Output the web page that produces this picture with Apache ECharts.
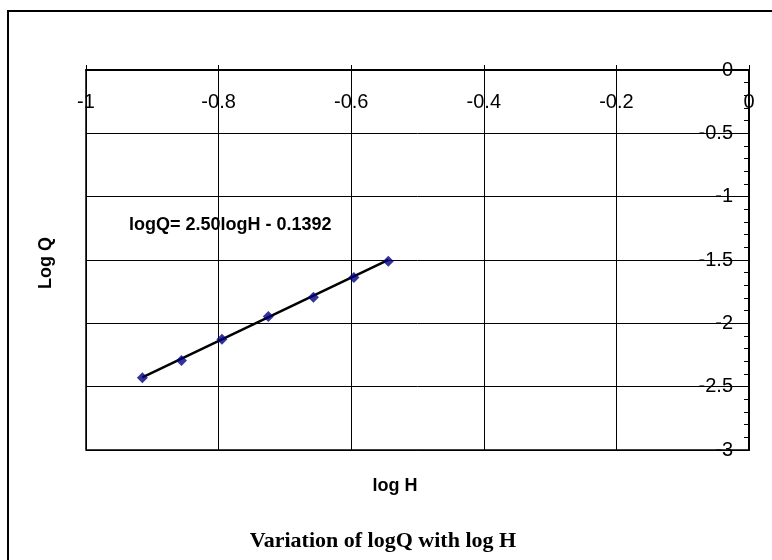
<!DOCTYPE html>
<html>
<head>
<meta charset="utf-8">
<script src="https://cdn.jsdelivr.net/npm/echarts@6/dist/echarts.min.js"></script>
<style>
  html, body { margin: 0; padding: 0; background: #fff; }
  #chart { width: 772px; height: 560px; }
</style>
</head>
<body>
<div id="chart"></div>
<script>
// measured points (log H, log Q)
var logH = [-0.915, -0.856, -0.795, -0.725, -0.657, -0.596, -0.544];
var logQ = [-2.429, -2.294, -2.126, -1.947, -1.794, -1.639, -1.510];
// trendline from the shown equation
var slope = 2.50;
var intercept = -0.1392;
var eqText = 'logQ= 2.50logH - 0.1392';
var titleText = 'Variation of logQ with log H';

var pts = logH.map(function (x, i) { return [x, logQ[i]]; });
var x0 = logH[0], x1 = logH[logH.length - 1];
var trend = [[x0, slope * x0 + intercept], [x1, slope * x1 + intercept]];

var sans = '"Liberation Sans", Arial, sans-serif';

var chart = echarts.init(document.getElementById('chart'));
chart.setOption({
    animation: false,
    backgroundColor: '#fff',
    grid: {
        left: 86, top: 70, right: 23, bottom: 110,
        show: true, borderColor: '#000', borderWidth: 1.5, backgroundColor: 'transparent'
    },
    xAxis: {
        type: 'value', position: 'top', min: -1, max: 0, interval: 0.2,
        axisLine: { onZero: false, lineStyle: { color: '#000', width: 2 } },
        axisTick: { show: true, length: 5, lineStyle: { color: '#000', width: 1 } },
        axisLabel: {
            inside: true, margin: 22, color: '#000', fontSize: 20, fontFamily: sans,
            showMinLabel: true, showMaxLabel: true
        },
        splitLine: { show: true, lineStyle: { color: '#000', width: 1 } }
    },
    yAxis: {
        type: 'value', position: 'right', min: -3, max: 0, interval: 0.5,
        axisLine: { onZero: false, lineStyle: { color: '#000', width: 2 } },
        axisTick: { show: true, inside: true, length: 5, lineStyle: { color: '#000', width: 1 } },
        minorTick: { show: true, splitNumber: 5, length: 5, lineStyle: { color: '#000', width: 1 } },
        axisLabel: {
            inside: true, margin: 16, color: '#000', fontSize: 20, fontFamily: sans,
            showMinLabel: true, showMaxLabel: true
        },
        splitLine: { show: true, lineStyle: { color: '#000', width: 1 } }
    },
    series: [
        {
            type: 'line', data: trend, symbol: 'none',
            lineStyle: { color: '#000', width: 2.5 }, z: 2
        },
        {
            type: 'scatter', data: pts, symbol: 'diamond', symbolSize: 11,
            itemStyle: { color: '#000080' }, z: 3
        }
    ],
    graphic: [
        {
            type: 'rect', shape: { x: 8, y: 11, width: 820, height: 620 },
            style: { fill: 'none', stroke: '#000', lineWidth: 2 }, silent: true
        },
        {
            type: 'text', x: 129, y: 216,
            style: { text: eqText, fill: '#000', font: 'bold 18px ' + sans, textAlign: 'left', textVerticalAlign: 'top' }
        },
        {
            type: 'text', x: 46, y: 263, rotation: Math.PI / 2,
            style: { text: 'Log Q', fill: '#000', font: 'bold 18px ' + sans, textAlign: 'center', textVerticalAlign: 'middle' }
        },
        {
            type: 'text', x: 395, y: 486,
            style: { text: 'log H', fill: '#000', font: 'bold 18px ' + sans, textAlign: 'center', textVerticalAlign: 'middle' }
        },
        {
            type: 'text', x: 383, y: 541,
            style: { text: titleText, fill: '#000', font: 'bold 22px "Liberation Serif", "Times New Roman", serif', textAlign: 'center', textVerticalAlign: 'middle' }
        }
    ]
});
</script>
</body>
</html>
